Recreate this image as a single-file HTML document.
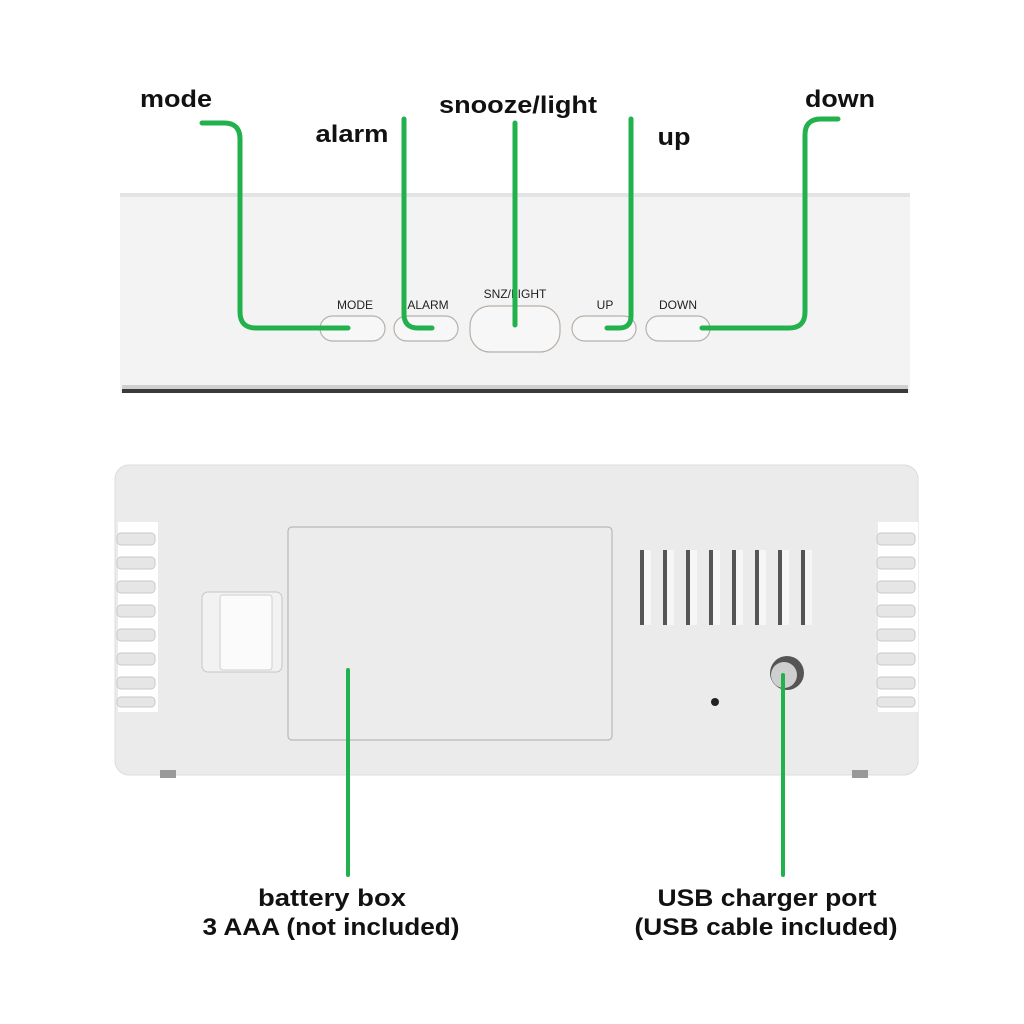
<!DOCTYPE html>
<html><head><style>html,body{margin:0;padding:0;background:#fff;}svg{display:block}</style></head>
<body>
<svg width="1024" height="1024" viewBox="0 0 1024 1024" xmlns="http://www.w3.org/2000/svg">
<rect width="1024" height="1024" fill="#fff"/>
<!-- top panel -->
<rect x="120" y="193" width="790" height="200" fill="#f3f3f3"/>
<rect x="120" y="193" width="790" height="4" fill="#e4e4e4"/>
<rect x="122" y="389" width="786" height="4" fill="#3a3a3a"/>
<rect x="122" y="385" width="786" height="4" fill="#cfcfcf"/>
<g fill="#f7f7f7" stroke="#b8b0a8" stroke-width="1.2">
<rect x="320" y="316" width="65" height="25" rx="12.5"/>
<rect x="394" y="316" width="64" height="25" rx="12.5"/>
<rect x="470" y="306" width="90" height="46" rx="20"/>
<rect x="572" y="316" width="64" height="25" rx="12.5"/>
<rect x="646" y="316" width="64" height="25" rx="12.5"/>
</g>
<g font-family="Liberation Sans, Arial, sans-serif" font-size="12" fill="#222" text-anchor="middle">
<text x="355" y="309">MODE</text>
<text x="428" y="309">ALARM</text>
<text x="515" y="298">SNZ/LIGHT</text>
<text x="605" y="309">UP</text>
<text x="678" y="309">DOWN</text>
</g>
<!-- bottom panel -->
<rect x="115" y="465" width="803" height="310" rx="14" fill="#ebebeb" stroke="#dcdcdc"/>
<rect x="118" y="522" width="40" height="190" fill="#fff"/>
<rect x="878" y="522" width="40" height="190" fill="#fff"/>
<g fill="#e6e6e6" stroke="#c9c9c9">
<rect x="117" y="533" width="38" height="12" rx="4"/><rect x="117" y="557" width="38" height="12" rx="4"/>
<rect x="117" y="581" width="38" height="12" rx="4"/><rect x="117" y="605" width="38" height="12" rx="4"/>
<rect x="117" y="629" width="38" height="12" rx="4"/><rect x="117" y="653" width="38" height="12" rx="4"/>
<rect x="117" y="677" width="38" height="12" rx="4"/><rect x="117" y="697" width="38" height="10" rx="4"/>
<rect x="877" y="533" width="38" height="12" rx="4"/><rect x="877" y="557" width="38" height="12" rx="4"/>
<rect x="877" y="581" width="38" height="12" rx="4"/><rect x="877" y="605" width="38" height="12" rx="4"/>
<rect x="877" y="629" width="38" height="12" rx="4"/><rect x="877" y="653" width="38" height="12" rx="4"/>
<rect x="877" y="677" width="38" height="12" rx="4"/><rect x="877" y="697" width="38" height="10" rx="4"/>
</g>
<rect x="160" y="770" width="16" height="8" fill="#999"/>
<rect x="852" y="770" width="16" height="8" fill="#999"/>
<rect x="288" y="527" width="324" height="213" rx="4" fill="#ececec" stroke="#b8b8b8" stroke-width="1.2"/>
<rect x="202" y="592" width="80" height="80" rx="6" fill="#f2f2f2" stroke="#c6c6c6"/>
<rect x="220" y="595" width="52" height="75" rx="3" fill="#fbfbfb" stroke="#cfcfcf"/>
<g fill="#f6f6f6">
<rect x="644" y="550" width="7" height="75"/><rect x="667" y="550" width="7" height="75"/>
<rect x="690" y="550" width="7" height="75"/><rect x="713" y="550" width="7" height="75"/>
<rect x="736" y="550" width="7" height="75"/><rect x="759" y="550" width="7" height="75"/>
<rect x="782" y="550" width="7" height="75"/><rect x="805" y="550" width="7" height="75"/>
</g>
<g fill="#555">
<rect x="640" y="550" width="4" height="75"/><rect x="663" y="550" width="4" height="75"/>
<rect x="686" y="550" width="4" height="75"/><rect x="709" y="550" width="4" height="75"/>
<rect x="732" y="550" width="4" height="75"/><rect x="755" y="550" width="4" height="75"/>
<rect x="778" y="550" width="4" height="75"/><rect x="801" y="550" width="4" height="75"/>
</g>
<circle cx="787" cy="673" r="17" fill="#555"/>
<circle cx="784" cy="675" r="13" fill="#cfcfcf"/>
<circle cx="715" cy="702" r="4" fill="#222"/>
<!-- green connectors -->
<g fill="none" stroke="#22b14c" stroke-width="5" stroke-linecap="round" stroke-linejoin="round">
<path d="M202 123 H224 Q240 123 240 139 V312 Q240 328 256 328 H348"/>
<path d="M404 119 V314 Q404 328 418 328 H432"/>
<path d="M515 123 V325"/>
<path d="M631 119 V316 Q631 328 619 328 H607"/>
<path d="M838 119 H821 Q805 119 805 135 V312 Q805 328 789 328 H702"/>
<path d="M348 670 V875" stroke-width="4"/>
<path d="M783 675 V875" stroke-width="4"/>
</g>
<g font-family="Liberation Sans, Arial, sans-serif" font-weight="bold" font-size="24" fill="#111" text-anchor="middle">
<text x="176" y="107" textLength="72" lengthAdjust="spacingAndGlyphs">mode</text>
<text x="352" y="142" textLength="73" lengthAdjust="spacingAndGlyphs">alarm</text>
<text x="518" y="113" textLength="158" lengthAdjust="spacingAndGlyphs">snooze/light</text>
<text x="674" y="145" textLength="33" lengthAdjust="spacingAndGlyphs">up</text>
<text x="840" y="107" textLength="70" lengthAdjust="spacingAndGlyphs">down</text>
<text x="332" y="906" textLength="148" lengthAdjust="spacingAndGlyphs">battery box</text>
<text x="331" y="935" textLength="257" lengthAdjust="spacingAndGlyphs">3 AAA (not included)</text>
<text x="767" y="906" textLength="219" lengthAdjust="spacingAndGlyphs">USB charger port</text>
<text x="766" y="935" textLength="263" lengthAdjust="spacingAndGlyphs">(USB cable included)</text>
</g>
</svg>
</body></html>
